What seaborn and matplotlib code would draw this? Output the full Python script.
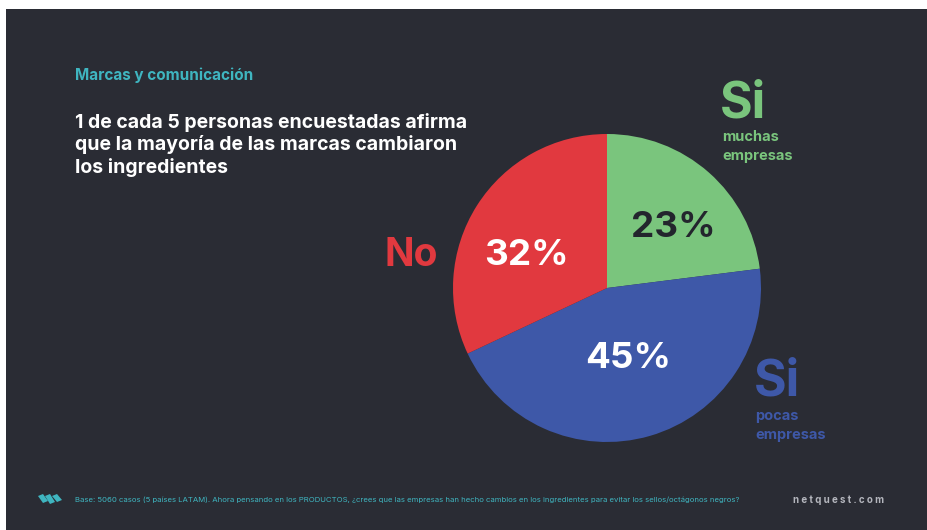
import matplotlib
matplotlib.use("Agg")
import matplotlib.pyplot as plt
import seaborn as sns
from matplotlib.patches import Rectangle, Polygon

# ---- data ----
slice_names = ["Si muchas empresas", "Si pocas empresas", "No"]
slice_values = [23, 45, 32]
slice_colors = ["#7ac57d", "#3e58a8", "#e1393f"]
pct_text_colors = ["#23252d", "#ffffff", "#ffffff"]

kicker = "Marcas y comunicación"
headline = ["1 de cada 5 personas encuestadas afirma",
            "que la mayoría de las marcas cambiaron",
            "los ingredientes"]
footnote = ("Base: 5060 casos (5 países LATAM). Ahora pensando en los PRODUCTOS, "
            "¿crees que las empresas han hecho cambios en los ingredientes para "
            "evitar los sellos/octágonos negros?")
brand = "n e t q u e s t . c o m"

BG = "#2a2c34"
TEAL = "#3fb5c0"

sns.set_theme(style="dark")
plt.rcParams['font.family'] = ['Inter', 'DejaVu Sans']

W, H = 928, 530
fig = plt.figure(figsize=(W / 100, H / 100), dpi=100, facecolor="white")

def fx(px):
    return px / W

def fy(py):
    return 1 - py / H

# dark slide background
fig.patches.append(Rectangle((fx(6), 0), 1 - fx(6), fy(9), transform=fig.transFigure,
                             facecolor=BG, edgecolor="none", zorder=-5))

# pie axes
cx, cy, r = 607, 288, 154
ax = fig.add_axes([fx(cx - r), fy(cy + r), (2 * r) / W, (2 * r) / H])
ax.set_zorder(3)
ax.patch.set_alpha(0)
wedges, _ = ax.pie(slice_values, colors=slice_colors, startangle=90,
                   counterclock=False, radius=1.0,
                   wedgeprops=dict(linewidth=0, antialiased=True))
ax.set_xlim(-1, 1)
ax.set_ylim(-1, 1)
ax.set_aspect("equal")
ax.axis("off")

label_pos = [(0.43, 0.39), (0.14, -0.46), (-0.52, 0.21)]
for v, c, (x, y) in zip(slice_values, pct_text_colors, label_pos):
    ax.text(x, y, f"{v}%", ha="center", va="center", color=c,
            fontsize=26.5, fontweight="bold")

# titles
fig.text(fx(75), fy(75), kicker, color=TEAL, fontsize=11, fontweight="bold",
         ha="left", va="center")
for i, line in enumerate(headline):
    fig.text(fx(75), fy(122 + 23 * i), line, color="white", fontsize=14,
             fontweight="bold", ha="left", va="center")

# outer labels
green, blue, red = slice_colors
fig.text(fx(411), fy(256), "No", color=red, fontsize=28, fontweight="bold",
         ha="center", va="center")
fig.text(fx(720), fy(104), "Si", color=green, fontsize=36, fontweight="bold",
         ha="left", va="center")
fig.text(fx(722), fy(137), "muchas", color=green, fontsize=10.5, fontweight="bold",
         ha="left", va="center")
fig.text(fx(722), fy(156), "empresas", color=green, fontsize=10.5, fontweight="bold",
         ha="left", va="center")
fig.text(fx(754), fy(382), "Si", color=blue, fontsize=36, fontweight="bold",
         ha="left", va="center")
fig.text(fx(755), fy(416), "pocas", color=blue, fontsize=10.5, fontweight="bold",
         ha="left", va="center")
fig.text(fx(755), fy(435), "empresas", color=blue, fontsize=10.5, fontweight="bold",
         ha="left", va="center")

# footer
fig.text(fx(75), fy(500), footnote, color=TEAL, fontsize=5.6, ha="left", va="center")
fig.text(fx(884), fy(500), brand, color="#b4b6bd", fontsize=7, fontweight="bold",
         ha="right", va="center")

# logo (three slanted bars)
for dx, h in [(0, 7), (7, 8), (14, 6)]:
    x0 = 38 + dx
    pts = [(x0, 496), (x0 + 5, 494), (x0 + 10, 500 + h - 6), (x0 + 5, 502 + h - 6)]
    fig.patches.append(Polygon([(fx(a), fy(b)) for a, b in pts], closed=True,
                               transform=fig.transFigure, facecolor=TEAL,
                               edgecolor="none", zorder=1))

fig.savefig("out.png", dpi=100, facecolor="white")
